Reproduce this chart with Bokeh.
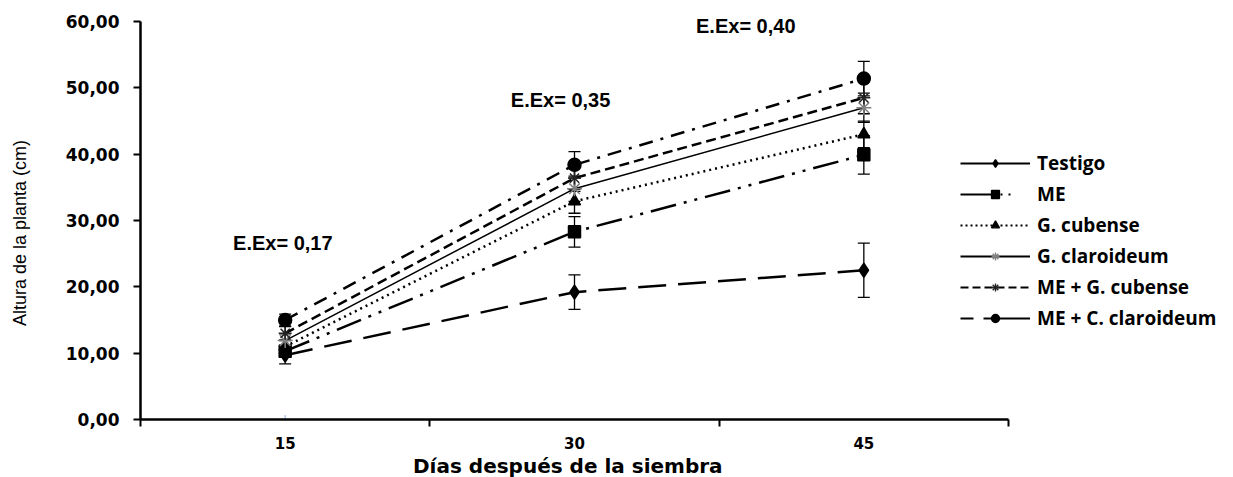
import numpy as np
from bokeh.plotting import figure
from bokeh.models import (ColumnDataSource, Range1d, FixedTicker, Whisker, TeeHead,
                          Legend, LegendItem, Label, Title)
from bokeh.embed import file_html
from bokeh.resources import INLINE

# ---------------- data ----------------
categories = ["15", "30", "45"]
series_names = ["Testigo", "ME", "G. cubense", "G. claroideum",
                "ME + G. cubense", "ME + C. claroideum"]
testigo = [9.7, 19.2, 22.5]
testigo_err = [1.3, 2.6, 4.1]
me = [10.3, 28.3, 39.9]
me_err = [0.9, 2.3, 2.9]
g_cubense = [11.0, 32.9, 43.0]
g_cubense_err = [0.9, 1.8, 2.0]
g_claroideum = [11.9, 34.8, 47.0]
g_claroideum_err = [1.0, 1.9, 2.2]
me_g_cubense = [13.0, 36.4, 48.5]
me_g_cubense_err = [1.0, 2.0, 2.4]
me_c_claroideum = [15.0, 38.4, 51.4]
me_c_claroideum_err = [0.9, 2.0, 2.6]
eex_labels = ["E.Ex= 0,17", "E.Ex= 0,35", "E.Ex= 0,40"]
y_ticks = [0, 10, 20, 30, 40, 50, 60]
y_tick_labels = ["0,00", "10,00", "20,00", "30,00", "40,00", "50,00", "60,00"]
x_title = "Días después de la siembra"
y_title = "Altura de la planta (cm)"
stray_marker_cat = ["15"]
stray_marker_val = [0.0]

values = [testigo, me, g_cubense, g_claroideum, me_g_cubense, me_c_claroideum]
errors = [testigo_err, me_err, g_cubense_err, g_claroideum_err,
          me_g_cubense_err, me_c_claroideum_err]

# ---------------- styles ----------------
line_dashes = ["28 12", "26 8 3 8 3 8", "2 4", "solid", "10 5", "14 8 3 8"]
line_widths = [2.5, 2.5, 2.5, 1.5, 2.5, 2.5]
markers = ["diamond", "square", "triangle", "asterisk", "asterisk", "circle"]
marker_sizes = [14, 12, 12, 15, 13, 13]
marker_colors = ["black", "black", "black", "#808080", "#222222", "black"]
legend_dashes = ["solid", "34 6 2 6 2 30", "2 3", "solid", "8 4", "13 10 100"]

W, H = 1233, 477
LEFT, RIGHT, TOP = 140, 5, 1
PX_PER_UNIT = 397 / 60.0          # vertical scale of the value axis
frame_w = W - LEFT - RIGHT
cat_w = 868 / 3.0                 # width of one category slot
y_top = 60 + 20 / PX_PER_UNIT     # a little headroom above the axis end

p = figure(width=W, height=H, output_backend="svg", toolbar_location=None,
           x_range=Range1d(0.5, 0.5 + frame_w / cat_w), y_range=Range1d(0, y_top),
           min_border_left=LEFT, min_border_right=RIGHT,
           min_border_top=TOP, min_border_bottom=20)
p.outline_line_color = None
p.xgrid.visible = False
p.ygrid.visible = False
p.background_fill_color = "white"

cat_index = {c: i + 1 for i, c in enumerate(categories)}
xs = [cat_index[c] for c in categories]

for name, vals, errs, dash, lw in zip(series_names, values, errors, line_dashes, line_widths):
    src = ColumnDataSource(dict(x=xs, y=vals,
                                upper=[v + e for v, e in zip(vals, errs)],
                                lower=[v - e for v, e in zip(vals, errs)]))
    p.line("x", "y", source=src, line_color="black", line_width=lw, line_dash=dash)
    w = Whisker(base="x", upper="upper", lower="lower", source=src,
                line_color="black", line_width=1.3,
                upper_head=TeeHead(size=12, line_color="black", line_width=1.3),
                lower_head=TeeHead(size=12, line_color="black", line_width=1.3))
    p.add_layout(w)

for name, vals, mk, ms, mc in zip(series_names, values, markers, marker_sizes, marker_colors):
    src = ColumnDataSource(dict(x=xs, y=vals))
    p.scatter("x", "y", source=src, marker=mk, size=ms, fill_color=mc,
              line_color=mc, line_width=1.5)

# stray light-blue marker at baseline
p.scatter(x=[cat_index[c] for c in stray_marker_cat], y=stray_marker_val, marker="cross",
          size=9, line_color="#8fb4e3", line_width=1)

# legend (separate glyphs mimicking the original legend keys)
items = []
for name, ldash, mk, ms, mc in zip(series_names, legend_dashes, markers, marker_sizes, marker_colors):
    dsrc = ColumnDataSource(dict(x=[np.nan], y=[np.nan]))
    lr = p.line("x", "y", source=dsrc, line_color="black", line_width=2.2, line_dash=ldash)
    sr = p.scatter("x", "y", source=dsrc, marker=mk, size=ms - 2, fill_color=mc,
                   line_color=mc, line_width=1.3)
    items.append(LegendItem(label=name, renderers=[lr, sr]))

legend = Legend(items=items, location=(820, 88), orientation="vertical",
                glyph_width=70, glyph_height=20, label_height=20, spacing=5,
                label_standoff=7, padding=0, margin=0,
                border_line_color=None, background_fill_alpha=0,
                label_text_font="Open Sans", label_text_font_style="bold",
                label_text_font_size="19px", label_text_color="black")
p.add_layout(legend, "center")

# axes
p.xaxis.ticker = FixedTicker(ticks=xs, minor_ticks=[x - 0.5 for x in xs] + [xs[-1] + 0.5])
p.xaxis.major_label_overrides = {cat_index[c]: c for c in categories}
p.xaxis.bounds = (0.5, len(categories) + 0.5)
p.xaxis.major_tick_out = 0
p.xaxis.major_tick_in = 0
p.xaxis.minor_tick_out = 7
p.xaxis.minor_tick_in = 0
p.xaxis.minor_tick_line_color = "black"
p.xaxis.minor_tick_line_width = 2
p.xaxis.axis_line_width = 2.5
p.xaxis.axis_line_color = "black"
p.xaxis.major_label_standoff = 10
p.xaxis.major_label_text_font = "DejaVu Sans"
p.xaxis.major_label_text_font_style = "bold"
p.xaxis.major_label_text_font_size = "15px"
p.xaxis.major_label_text_color = "black"

# x-axis title, centred under the category axis (not the wider frame)
x_title_w = 323
p.add_layout(Title(text=x_title, align="left", offset=(574 - x_title_w / 2) - LEFT,
                   standoff=0, text_font="DejaVu Sans", text_font_style="bold",
                   text_font_size="20px", text_color="black"), "below")

p.yaxis.ticker = FixedTicker(ticks=y_ticks)
p.yaxis.major_label_overrides = {t: l for t, l in zip(y_ticks, y_tick_labels)}
p.yaxis.bounds = (y_ticks[0], y_ticks[-1])
p.yaxis.major_tick_out = 7
p.yaxis.major_tick_in = 0
p.yaxis.minor_tick_out = 0
p.yaxis.minor_tick_in = 0
p.yaxis.major_tick_line_width = 2
p.yaxis.major_tick_line_color = "black"
p.yaxis.axis_line_width = 2.5
p.yaxis.axis_line_color = "black"
p.yaxis.major_label_standoff = 14
p.yaxis.major_label_text_font = "DejaVu Sans"
p.yaxis.major_label_text_font_style = "bold"
p.yaxis.major_label_text_font_size = "17px"
p.yaxis.major_label_text_color = "black"
# trailing no-break spaces centre the visible title on the 0-60 span of the axis
p.yaxis.axis_label = y_title + "\u00a0" * 9
p.yaxis.axis_label_standoff = 33
p.yaxis.axis_label_text_font = "Liberation Sans"
p.yaxis.axis_label_text_font_style = "normal"
p.yaxis.axis_label_text_font_size = "18px"
p.yaxis.axis_label_text_color = "black"

# E.Ex annotations
eex_pos = [(0.82, 26.6), (1.78, 48.2), (2.42, 59.4)]
for txt, (lx, ly) in zip(eex_labels, eex_pos):
    p.add_layout(Label(x=lx, y=ly, text=txt, text_font="Liberation Sans",
                       text_font_style="bold", text_font_size="20px",
                       text_baseline="middle", text_color="black"))

open("out.html", "w").write(file_html(p, INLINE))
